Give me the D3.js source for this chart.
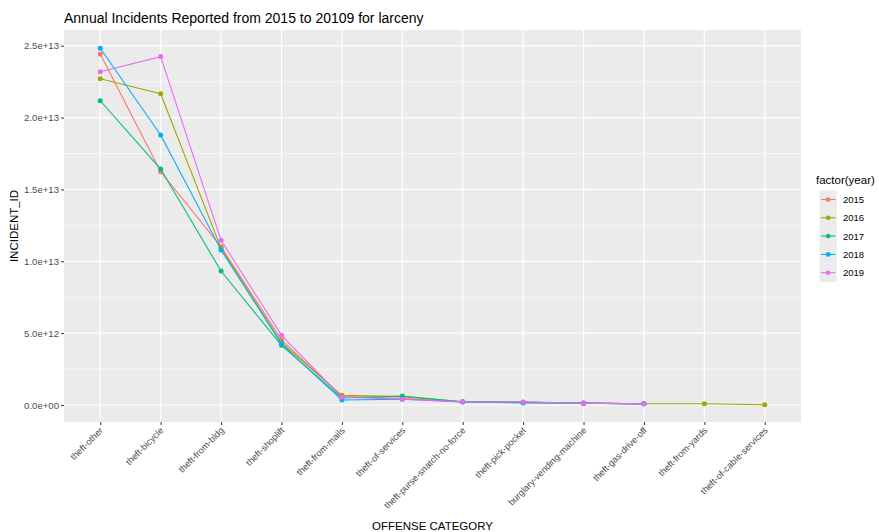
<!DOCTYPE html>
<html><head><meta charset="utf-8">
<script src="https://cdn.jsdelivr.net/npm/d3@7"></script>
<style>body{margin:0;background:#fff;font-family:"Liberation Sans",Arial,sans-serif;}</style>
</head><body><svg id="c" width="879" height="532"></svg>
<script>
const categories = ["theft-other","theft-bicycle","theft-from-bldg","theft-shoplift","theft-from-mails","theft-of-services","theft-purse-snatch-no-force","theft-pick-pocket","burglary-vending-machine","theft-gas-drive-off","theft-from-yards","theft-of-cable-services"];
const years = ["2015","2016","2017","2018","2019"];
const colors = ["#F8766D","#A3A500","#00BF7D","#00B0F6","#E76BF3"];
const yTicks = [0, 5e12, 1e13, 1.5e13, 2e13, 2.5e13];
const yTickLabels = ["0.0e+00","5.0e+12","1.0e+13","1.5e+13","2.0e+13","2.5e+13"];
const v2015 = [2.442e13, 1.623e13, 1.102e13, 4.52e12, 5.9e11, 4.6e11, 2.2e11, 2.0e11, 1.3e11, 8e10];
const v2016 = [2.270e13, 2.166e13, 1.090e13, 4.33e12, 6.7e11, 5.8e11, 2.3e11, 1.9e11, 1.4e11, 9e10, 9e10, 2e10];
const v2017 = [2.117e13, 1.642e13, 9.32e12, 4.15e12, 4.9e11, 6.3e11, 2.2e11, 1.8e11, 1.3e11, 8e10];
const v2018 = [2.482e13, 1.879e13, 1.078e13, 4.24e12, 3.5e11, 4.0e11, 2.1e11, 1.4e11, 1.2e11, 8e10];
const v2019 = [2.319e13, 2.424e13, 1.146e13, 4.85e12, 5.4e11, 4.0e11, 2.2e11, 2.1e11, 1.3e11, 8e10];
const seriesValues = [v2015, v2016, v2017, v2018, v2019];

const svg = d3.select("#c");
const L = 64, R = 801, T = 30, B = 422;
const x = d3.scalePoint().domain(categories).range([L, R]).padding(0.6);
const k = (405-45.7)/2.5e13;
const y = d3.scaleLinear().domain([-(B-405)/k, (405-T)/k]).range([B, T]);

svg.append("rect").attr("x",L).attr("y",T).attr("width",R-L).attr("height",B-T).attr("fill","#EBEBEB");
const minor = [2.5e12, 7.5e12, 1.25e13, 1.75e13, 2.25e13];
svg.append("g").selectAll("line").data(minor).join("line")
  .attr("x1",L).attr("x2",R).attr("y1",d=>y(d)).attr("y2",d=>y(d)).attr("stroke","#fff").attr("stroke-width",0.6);
svg.append("g").selectAll("line").data(yTicks).join("line")
  .attr("x1",L).attr("x2",R).attr("y1",d=>y(d)).attr("y2",d=>y(d)).attr("stroke","#fff").attr("stroke-width",1.2);
svg.append("g").selectAll("line").data(categories).join("line")
  .attr("x1",d=>x(d)).attr("x2",d=>x(d)).attr("y1",T).attr("y2",B).attr("stroke","#fff").attr("stroke-width",1.2);

const yAxis = d3.axisLeft(y).tickValues(yTicks).tickFormat((d,i)=>yTickLabels[i]).tickSize(3).tickPadding(2);
const gy = svg.append("g").attr("transform",`translate(${L},0)`).call(yAxis);
gy.select(".domain").remove();
gy.selectAll(".tick line").attr("stroke","#333");
gy.selectAll("text").attr("fill","#4D4D4D").style("font-size","9.6px").style("font-family","Liberation Sans, Arial, sans-serif");

const xAxis = d3.axisBottom(x).tickSize(3).tickPadding(2);
const gx = svg.append("g").attr("transform",`translate(0,${B})`).call(xAxis);
gx.select(".domain").remove();
gx.selectAll(".tick line").attr("stroke","#333");
gx.selectAll("text").attr("fill","#4D4D4D").style("font-size","9.2px").style("font-family","Liberation Sans, Arial, sans-serif")
  .attr("text-anchor","end").attr("dy",null).attr("y",0)
  .attr("transform","translate(3,9) rotate(-45)");

const line = d3.line().x(d=>x(d.c)).y(d=>y(d.v));
years.forEach((yr,i)=>{
  const pts = seriesValues[i].map((v,j)=>({c:categories[j], v}));
  const g = svg.append("g");
  g.append("path").attr("d",line(pts)).attr("fill","none").attr("stroke",colors[i]).attr("stroke-width",1.1);
  g.selectAll("circle").data(pts).join("circle").attr("cx",d=>x(d.c)).attr("cy",d=>y(d.v)).attr("r",2.5).attr("fill",colors[i]);
});

svg.append("text").attr("x",L).attr("y",22.5).text("Annual Incidents Reported from 2015 to 20109 for larceny")
  .attr("fill","#000").style("font-size","14px");
svg.append("text").attr("transform",`translate(18,${(T+B)/2}) rotate(-90)`).attr("text-anchor","middle")
  .text("INCIDENT_ID").style("font-size","11.5px").attr("fill","#000");
svg.append("text").attr("x",(L+R)/2).attr("y",529.5).attr("text-anchor","middle")
  .text("OFFENSE CATEGORY").style("font-size","11.5px").attr("fill","#000");

// legend
const lg = svg.append("g");
lg.append("text").attr("x",816).attr("y",184).text("factor(year)").style("font-size","11.5px").attr("fill","#000");
years.forEach((yr,i)=>{
  const cy = 199.5 + i*18.3;
  lg.append("rect").attr("x",819.5).attr("y",cy-9).attr("width",17.3).attr("height",18.3).attr("fill","#EBEBEB");
  lg.append("line").attr("x1",821).attr("x2",835.5).attr("y1",cy).attr("y2",cy).attr("stroke",colors[i]).attr("stroke-width",1.1);
  lg.append("circle").attr("cx",828.2).attr("cy",cy).attr("r",2.3).attr("fill",colors[i]);
  lg.append("text").attr("x",843).attr("y",cy+3.5).text(yr).style("font-size","9.5px").attr("fill","#000");
});
</script></body></html>
